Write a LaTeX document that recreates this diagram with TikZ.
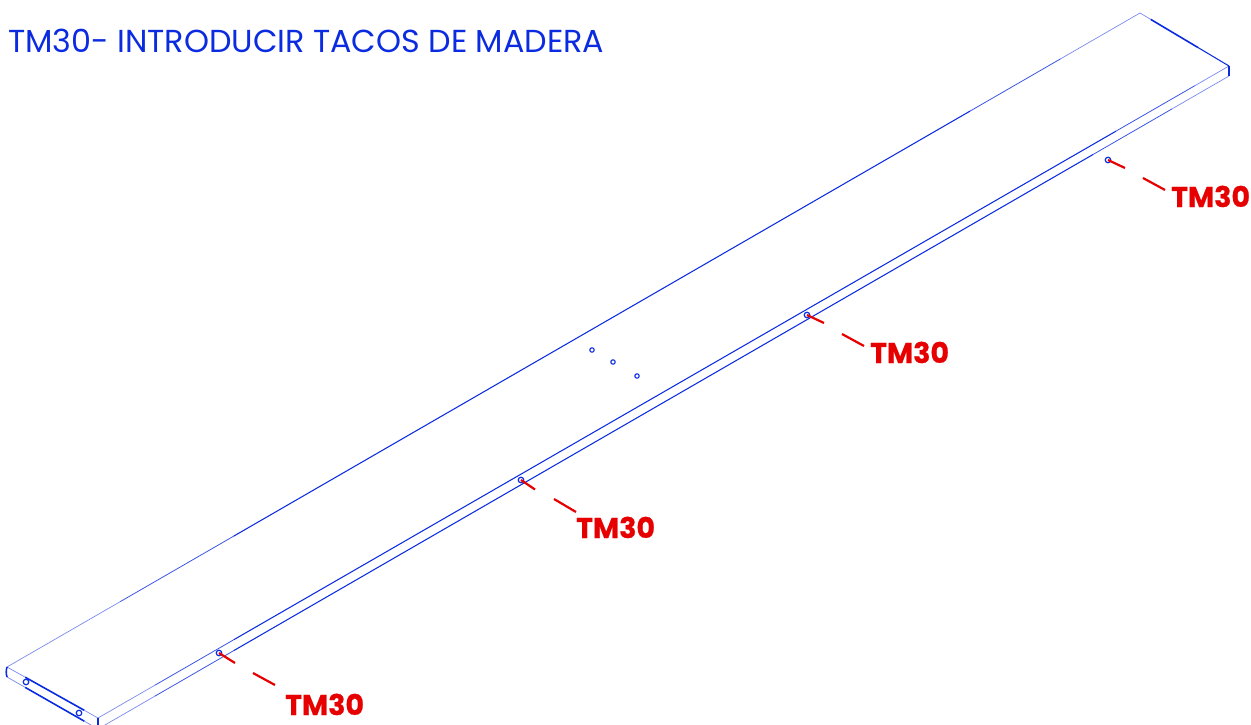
\documentclass[tikz,border=0pt]{standalone}
\usepackage{fontspec}
\usetikzlibrary{calc}
\setmainfont{Poppins}
\definecolor{bl}{HTML}{0A2BE0}
\definecolor{rd}{HTML}{E60000}
\tikzset{
  x=1pt,y=-1pt,
  hole/.style={circle,draw=bl,line width=1.1pt,inner sep=0pt,minimum size=4.4pt},
  bighole/.style={circle,draw=bl,line width=1.2pt,inner sep=0pt,minimum size=5.5pt},
  edgefaint/.style={draw=bl!55,line width=.7pt},
  edgesoft/.style={draw=bl!80,line width=.8pt},
  edgemid/.style={draw=bl,line width=1.05pt},
  edgethick/.style={draw=bl,line width=1.6pt},
  leader/.style={draw=rd,line width=2.2pt},
  tag/.style={text=rd,font=\fontsize{28.5}{28}\bfseries\addfontfeature{FakeBold=.7}\selectfont,anchor=base west,inner sep=0pt},
  title/.style={text=bl,font=\fontsize{31.8}{32}\selectfont,anchor=base west,inner sep=0pt},
}
\begin{document}
\begin{tikzpicture}
\useasboundingbox (0,0) rectangle (1251,725);
\node[title] (t) at (8,53) {TM30- INTRODUCIR TACOS DE MADERA};
% corners
\coordinate (A) at (7,667); \coordinate (Ab) at (7,677);
\coordinate (B) at (98,718); \coordinate (Bb) at (98,729);
\coordinate (C) at (1229,66); \coordinate (Cb) at (1229,76);
\coordinate (D) at (1140,13);
% back edge
\draw[edgefaint] (A) -- ($(A)!.1!(D)$);
\draw[edgesoft] ($(A)!.1!(D)$) -- ($(A)!.2!(D)$);
\draw[edgemid] ($(A)!.2!(D)$) -- ($(A)!.85!(D)$);
\draw[edgesoft] ($(A)!.85!(D)$) -- ($(A)!.93!(D)$);
\draw[edgefaint] ($(A)!.93!(D)$) -- (D);
% front upper edge
\draw[edgefaint] (B) -- ($(B)!.05!(C)$);
\draw[edgesoft] ($(B)!.05!(C)$) -- ($(B)!.12!(C)$);
\draw[edgemid] ($(B)!.12!(C)$) -- ($(B)!.9!(C)$);
\draw[edgesoft] ($(B)!.9!(C)$) -- ($(B)!.97!(C)$);
\draw[edgefaint] ($(B)!.97!(C)$) -- (C);
% front lower edge
\draw[edgefaint] (Bb) -- ($(Bb)!.05!(Cb)$);
\draw[edgesoft] ($(Bb)!.05!(Cb)$) -- ($(Bb)!.12!(Cb)$);
\draw[edgemid] ($(Bb)!.12!(Cb)$) -- ($(Bb)!.88!(Cb)$);
\draw[edgesoft] ($(Bb)!.88!(Cb)$) -- ($(Bb)!.95!(Cb)$);
\draw[edgefaint] ($(Bb)!.95!(Cb)$) -- (Cb);
% left end
\draw[edgefaint] (A) -- ($(A)!.2!(B)$);
\draw[edgethick] ($(A)!.2!(B)$) -- ($(A)!.85!(B)$);
\draw[edgefaint] ($(A)!.85!(B)$) -- (B);
\draw[edgefaint] (Ab) -- ($(Ab)!.2!(Bb)$);
\draw[edgethick] ($(Ab)!.2!(Bb)$) -- ($(Ab)!.85!(Bb)$);
\draw[edgefaint] ($(Ab)!.85!(Bb)$) -- (Bb);
\draw[edgethick] (A) .. controls (6,670) and (6,674) .. (Ab);
\draw[edgethick] (B) -- (Bb);
% right end
\draw[edgefaint] (D) -- ($(D)!.12!(C)$);
\draw[edgethick] ($(D)!.12!(C)$) -- ($(D)!.65!(C)$);
\draw[edgemid] ($(D)!.65!(C)$) -- (C);
\draw[edgethick] (C) -- (Cb);
% holes on the end face
\node[bighole] (e1) at (26,682) {};
\node[bighole] (e2) at (79,713) {};
% small holes on top
\node[hole] (h1) at (592,350) {};
\node[hole] (h2) at (613,362) {};
\node[hole] (h3) at (637,376) {};
% holes with leaders
\node[bighole] (p1) at (219,653) {};
\node[bighole] (p2) at (521,480) {};
\node[bighole] (p3) at (807,315) {};
\node[bighole] (p4) at (1108,160) {};
% labels
\node[tag] (l1) at (285,715) {TM30};
\node[tag] (l2) at (576,538) {TM30};
\node[tag] (l3) at (870,363) {TM30};
\node[tag] (l4) at (1171,207) {TM30};
% leaders
\coordinate (a1) at (235,663); \coordinate (b1) at (253,673); \coordinate (c1) at (275,685);
\coordinate (a2) at (535,489.5); \coordinate (b2) at (554,499); \coordinate (c2) at (576,512);
\coordinate (a3) at (824,323); \coordinate (b3) at (842,334); \coordinate (c3) at (864,346);
\coordinate (a4) at (1125,168); \coordinate (b4) at (1143,178); \coordinate (c4) at (1165,190);
\draw[leader] (p1.center) -- (a1) (b1) -- (c1);
\draw[leader] (p2.center) -- (a2) (b2) -- (c2);
\draw[leader] (p3.center) -- (a3) (b3) -- (c3);
\draw[leader] (p4.center) -- (a4) (b4) -- (c4);
\end{tikzpicture}
\end{document}
